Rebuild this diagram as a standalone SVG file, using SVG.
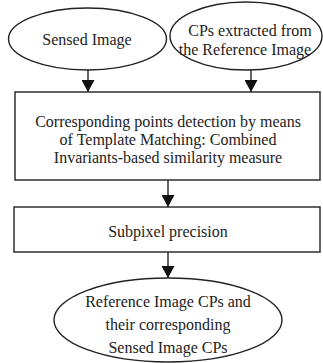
<svg xmlns="http://www.w3.org/2000/svg" width="323" height="363" viewBox="0 0 323 363">
<style>
.s{fill:#fff;stroke:#222;stroke-width:1.4}
.c{stroke:#222;stroke-width:1.4;fill:none}
text{font-family:"Liberation Serif","Times New Roman",serif;font-size:16px;fill:#222;text-anchor:middle}
</style>
<defs>
<marker id="ah" markerWidth="12" markerHeight="13" refX="12" refY="6.5" orient="auto" markerUnits="userSpaceOnUse">
<path d="M0,0 L12,6.5 L0,13 Z" fill="#111"/>
</marker>
</defs>
<rect width="323" height="363" fill="#fff"/>
<g id="connectors">
<line class="c" x1="88" y1="70" x2="88" y2="92" marker-end="url(#ah)"/>
<line class="c" x1="251" y1="70" x2="251" y2="92" marker-end="url(#ah)"/>
<line class="c" x1="168" y1="180" x2="168" y2="207" marker-end="url(#ah)"/>
<line class="c" x1="168" y1="252" x2="168" y2="278" marker-end="url(#ah)"/>
</g>
<g id="sensed">
<ellipse class="s" cx="87.5" cy="39" rx="79" ry="31"/>
<text x="87" y="45">Sensed Image</text>
</g>
<g id="cps">
<ellipse class="s" cx="246" cy="36" rx="76" ry="34"/>
<text x="250" y="36">CPs extracted from</text>
<text x="245" y="55">the Reference Image</text>
</g>
<g id="detection">
<rect class="s" x="15" y="92" width="305" height="88"/>
<text x="168" y="127">Corresponding points detection by means</text>
<text x="168" y="145">of Template Matching: Combined</text>
<text x="168" y="163">Invariants-based similarity measure</text>
</g>
<g id="subpixel">
<rect class="s" x="14" y="207" width="306" height="45"/>
<text x="168" y="237">Subpixel precision</text>
</g>
<g id="result">
<ellipse class="s" cx="168" cy="320" rx="114" ry="42"/>
<text x="168" y="307">Reference Image CPs and</text>
<text x="168" y="330">their corresponding</text>
<text x="168" y="353">Sensed Image CPs</text>
</g>
</svg>
